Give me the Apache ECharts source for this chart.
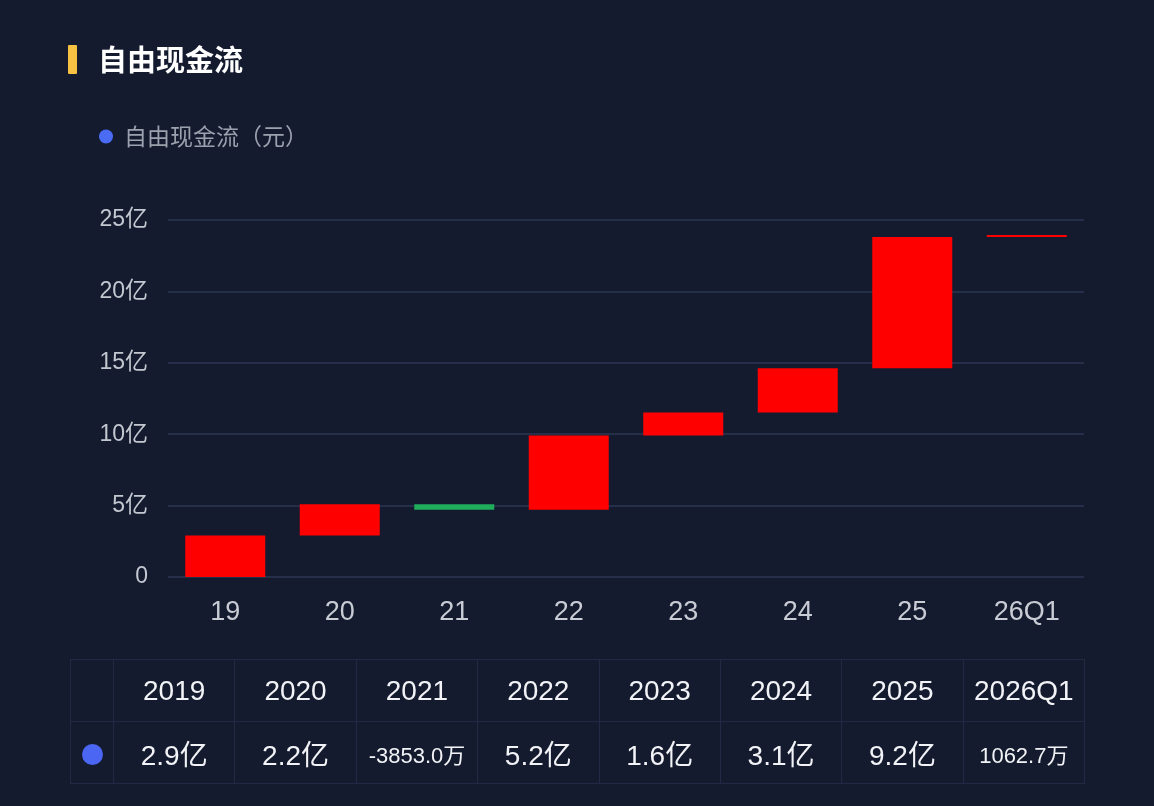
<!DOCTYPE html>
<html>
<head>
<meta charset="utf-8">
<script src="https://cdn.jsdelivr.net/npm/echarts@6/dist/echarts.min.js"></script>
<style>
  html, body { margin: 0; padding: 0; background: #141b2f; }
  #wrap { position: relative; width: 1154px; height: 806px; overflow: hidden; }
  #chart { position: absolute; left: 0; top: 0; width: 1154px; height: 806px; }
  #table {
    position: absolute; left: 70px; top: 659px; width: 1015px;
    border-collapse: collapse; table-layout: fixed;
    font-family: 'Liberation Sans', 'Noto Sans CJK SC', sans-serif; color: #f2f3f6;
  }
  #table td { border: 1px solid #212a45; text-align: center; padding: 0; height: 61px; font-size: 28px; white-space: nowrap; }
  .dot { display: inline-block; width: 21px; height: 21px; border-radius: 50%; background: #4a66f2; vertical-align: middle; }
</style>
</head>
<body>
<div id="wrap">
  <div id="chart"></div>
  <table id="table"></table>
</div>
<script>
// 自由现金流, 单位: 亿元
const categories = ['19', '20', '21', '22', '23', '24', '25', '26Q1']
const periods = ['2019', '2020', '2021', '2022', '2023', '2024', '2025', '2026Q1']
const flows = [2.9, 2.2, -0.3853, 5.2, 1.6, 3.1, 9.2, 0.10627]
const yTicks = [0, 5, 10, 15, 20, 25]

const UP = '#ff0000'
const DOWN = '#1fae5b'
const CJK = "'Noto Sans CJK SC', sans-serif"
const NUM = "'Liberation Sans', 'Noto Sans CJK SC', sans-serif"

// waterfall: transparent base + visible delta
const bases = []
const deltas = []
let total = 0
flows.forEach(v => {
  const next = total + v
  bases.push(Math.min(total, next))
  deltas.push({ value: Math.abs(v), itemStyle: { color: v >= 0 ? UP : DOWN } })
  total = next
})

function fmt (v) {
  if (Math.abs(v) < 1) return (v * 10000).toFixed(1) + '万'
  return v.toFixed(1) + '亿'
}

const chart = echarts.init(document.getElementById('chart'))
chart.setOption({
  backgroundColor: '#141b2f',
  textStyle: { fontFamily: NUM },
  title: {
    text: '自由现金流',
    left: 93,
    top: 40,
    textStyle: { color: '#ffffff', fontSize: 29, fontWeight: 'bold', fontFamily: CJK }
  },
  graphic: [{
    type: 'rect',
    left: 68,
    top: 45,
    shape: { width: 9, height: 29, r: 1 },
    style: { fill: '#f7c244' }
  }],
  legend: {
    left: 94,
    top: 120,
    icon: 'circle',
    itemWidth: 14,
    itemHeight: 14,
    itemGap: 10,
    textStyle: { color: '#9ca1ae', fontSize: 23, fontFamily: CJK, padding: [0, 0, 0, 6] },
    data: [{ name: '自由现金流（元）', itemStyle: { color: '#4a6cf5' } }],
    selectedMode: false
  },
  grid: { left: 168, right: 70, top: 220, bottom: 229 },
  xAxis: {
    type: 'category',
    data: categories,
    axisLine: { show: false },
    axisTick: { show: false },
    axisLabel: { color: '#c9ccd4', fontSize: 27, margin: 22, fontFamily: NUM }
  },
  yAxis: {
    type: 'value',
    min: yTicks[0],
    max: yTicks[yTicks.length - 1],
    interval: 5,
    axisLabel: {
      color: '#c3c7d0',
      fontSize: 23,
      margin: 20,
      fontFamily: NUM,
      formatter: v => v === 0 ? '0' : v + '亿'
    },
    splitLine: { lineStyle: { color: '#262f4a', width: 2 } }
  },
  series: [
    {
      name: 'base',
      type: 'bar',
      stack: 'wf',
      barWidth: 80,
      silent: true,
      itemStyle: { color: 'transparent' },
      data: bases
    },
    {
      name: '自由现金流（元）',
      type: 'bar',
      stack: 'wf',
      barWidth: 80,
      barMinHeight: 2,
      data: deltas
    }
  ]
})

// bottom table
const table = document.getElementById('table')
let cols = '<colgroup><col style="width:43px">'
let head = '<tr><td></td>'
let body = '<tr><td><span class="dot"></span></td>'
periods.forEach((p, i) => {
  const text = fmt(flows[i])
  let size = 28
  if (text.indexOf('万') > -1) size = text.length > 8 ? 15 : 22
  cols += '<col>'
  head += '<td>' + p + '</td>'
  body += '<td style="font-size:' + size + 'px">' + text + '</td>'
})
table.innerHTML = cols + '</colgroup>' + head + '</tr>' + body + '</tr>'
</script>
</body>
</html>
